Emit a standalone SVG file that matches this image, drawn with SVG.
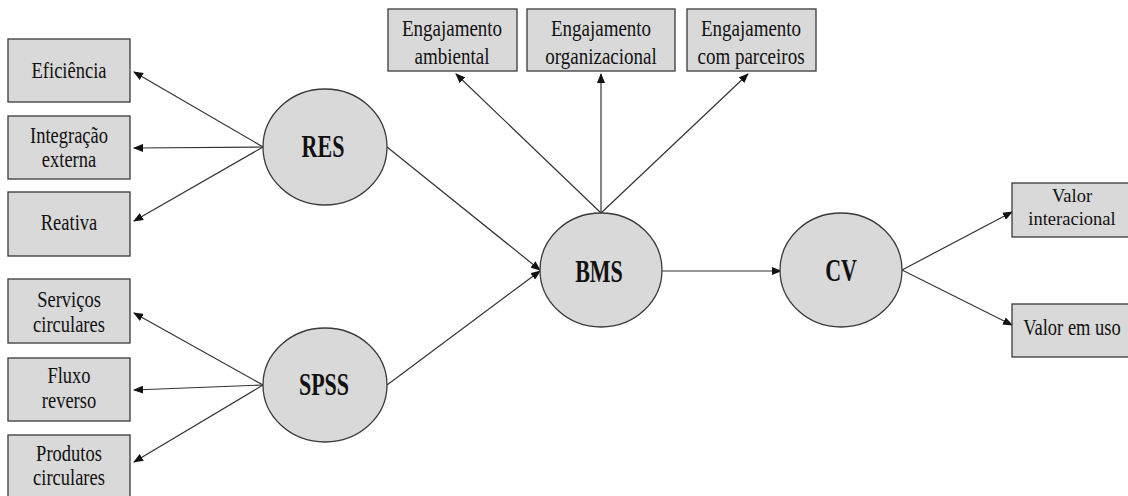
<svg xmlns="http://www.w3.org/2000/svg" width="1128" height="496" viewBox="0 0 1128 496">
<defs>
<marker id="ah" markerWidth="10" markerHeight="8" refX="9" refY="4" orient="auto" markerUnits="userSpaceOnUse">
<path d="M0,0 L10,4 L0,8 z" fill="#111"/>
</marker>
<style>
.box{fill:#d9d9d9;stroke:#3a3a3a;stroke-width:1.3}
.ell{fill:#d9d9d9;stroke:#3a3a3a;stroke-width:1.3}
.t{font-family:'Liberation Serif','DejaVu Serif',serif;font-size:18.5px;fill:#111;text-anchor:middle}
.tt{font-family:'Liberation Serif','DejaVu Serif',serif;font-size:19px;fill:#111;text-anchor:middle}
.c{font-family:'Liberation Serif','DejaVu Serif',serif;font-size:22px;font-weight:bold;fill:#111;text-anchor:middle}
.ln{stroke:#333;stroke-width:1.2;fill:none;marker-end:url(#ah)}
</style>
</defs>
<rect width="1128" height="496" fill="#fff"/>
<g id="connectors">
<line class="ln" x1="263" y1="147" x2="134" y2="72"/>
<line class="ln" x1="263" y1="147" x2="134" y2="148"/>
<line class="ln" x1="263" y1="147" x2="134" y2="221"/>
<line class="ln" x1="263" y1="385" x2="134" y2="313"/>
<line class="ln" x1="263" y1="385" x2="134" y2="390"/>
<line class="ln" x1="263" y1="385" x2="134" y2="462"/>
<line class="ln" x1="387" y1="147" x2="540" y2="270"/>
<line class="ln" x1="387" y1="385" x2="540" y2="271"/>
<line class="ln" x1="601" y1="213" x2="456" y2="74"/>
<line class="ln" x1="601" y1="213" x2="601" y2="74"/>
<line class="ln" x1="601" y1="213" x2="748" y2="74"/>
<line class="ln" x1="662" y1="271" x2="781" y2="271"/>
<line class="ln" x1="902" y1="270" x2="1012" y2="212"/>
<line class="ln" x1="902" y1="270" x2="1012" y2="325"/>
</g>
<g id="eficiencia"><rect class="box" x="8" y="39" width="122" height="63"/><text class="t" transform="translate(69,78) scale(1,1.2)">Eficiência</text></g>
<g id="integracao"><rect class="box" x="8" y="116" width="122" height="63"/><text class="t" transform="translate(69,143) scale(1,1.2)">Integração</text><text class="t" transform="translate(69,167) scale(1,1.2)">externa</text></g>
<g id="reativa"><rect class="box" x="8" y="192" width="122" height="64"/><text class="t" transform="translate(69,230) scale(1,1.2)">Reativa</text></g>
<g id="servicos"><rect class="box" x="8" y="279" width="122" height="64"/><text class="t" transform="translate(69,307) scale(1,1.2)">Serviços</text><text class="t" transform="translate(69,332) scale(1,1.2)">circulares</text></g>
<g id="fluxo"><rect class="box" x="8" y="358" width="122" height="63"/><text class="t" transform="translate(69,383) scale(1,1.2)">Fluxo</text><text class="t" transform="translate(69,408) scale(1,1.2)">reverso</text></g>
<g id="produtos"><rect class="box" x="8" y="435" width="122" height="70"/><text class="t" transform="translate(69,461) scale(1,1.2)">Produtos</text><text class="t" transform="translate(69,485) scale(1,1.2)">circulares</text></g>
<g id="eng-amb"><rect class="box" x="388" y="9" width="129" height="62"/><text class="tt" transform="translate(452,36) scale(1,1.25)">Engajamento</text><text class="tt" transform="translate(452,64) scale(1,1.25)">ambiental</text></g>
<g id="eng-org"><rect class="box" x="527" y="9" width="148" height="62"/><text class="tt" transform="translate(601,36) scale(1,1.25)">Engajamento</text><text class="tt" transform="translate(601,64) scale(1,1.25)">organizacional</text></g>
<g id="eng-par"><rect class="box" x="687" y="9" width="129" height="62"/><text class="tt" transform="translate(751,36) scale(1,1.25)">Engajamento</text><text class="tt" transform="translate(751,64) scale(1,1.25)">com parceiros</text></g>
<g id="res"><ellipse class="ell" cx="325" cy="147" rx="62" ry="58"/><text class="c" transform="translate(323,157) scale(1,1.4)">RES</text></g>
<g id="spss"><ellipse class="ell" cx="325" cy="385" rx="62" ry="57"/><text class="c" transform="translate(324,395) scale(1,1.4)">SPSS</text></g>
<g id="bms"><ellipse class="ell" cx="601" cy="270" rx="61" ry="57"/><text class="c" transform="translate(599,282) scale(1,1.4)">BMS</text></g>
<g id="cv"><ellipse class="ell" cx="841" cy="270" rx="61" ry="57"/><text class="c" transform="translate(841,281) scale(1,1.4)">CV</text></g>
<g id="valor-int"><rect class="box" x="1012" y="183" width="125" height="54"/><text class="t" transform="translate(1072,202)">Valor</text><text class="t" transform="translate(1072,225)">interacional</text></g>
<g id="valor-uso"><rect class="box" x="1012" y="304" width="125" height="53"/><text class="t" transform="translate(1072,335) scale(1,1.2)">Valor em uso</text></g>
</svg>
